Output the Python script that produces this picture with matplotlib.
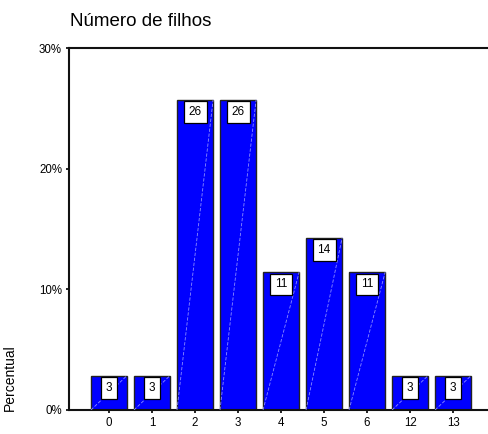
import matplotlib
matplotlib.use("Agg")
import matplotlib.pyplot as plt

plt.rcParams['font.family'] = ['Liberation Sans', 'DejaVu Sans']

# Number of children (n = 35), percent of respondents
categories = ['0', '1', '2', '3', '4', '5', '6', '12', '13']
percent = [2.857, 2.857, 25.714, 25.714, 11.429, 14.286, 11.429, 2.857, 2.857]
yticks = [0, 10, 20, 30]

fig = plt.figure(figsize=(4.88, 4.34), dpi=100)
ax = fig.add_axes([0.1414, 0.0553, 0.8586, 0.8341])

x = list(range(len(categories)))
width = 0.84
bars = ax.bar(x, percent, width=width, color='#0000ff', edgecolor='#222222',
              linewidth=1.0, zorder=2)

# faint diagonal stroke inside each bar
for xi, v in zip(x, percent):
    ax.plot([xi - width / 2, xi + width / 2], [0, v], color='#8c8cff',
            lw=0.6, ls=(0, (4, 2)), zorder=3)

# value boxes near the top of each bar
for xi, v in zip(x, percent):
    ax.annotate(f"{v:.0f}", xy=(xi, v), xytext=(0, -4.6), textcoords='offset points',
                ha='center', va='top', fontsize=8.5, zorder=4,
                bbox=dict(boxstyle='square,pad=0.42', fc='white', ec='black', lw=0.9))

ax.set_xlim(-0.93, 8.81)
ax.set_ylim(0, 30)
ax.set_xticks(x)
ax.set_xticklabels(categories, fontsize=8.3)
ax.set_yticks(yticks)
ax.set_yticklabels([f"{t}%" for t in yticks], fontsize=8.3)
ax.tick_params(axis='both', direction='out', length=2.5, width=1.2, pad=2.5)

for side in ['left', 'bottom', 'top']:
    ax.spines[side].set_linewidth(1.5)
    ax.spines[side].set_color('#111111')
ax.spines['right'].set_visible(False)

ax.set_ylabel('Percentual', fontsize=10)
ax.yaxis.set_label_coords(-0.125, 0.09)

fig.text(0.143, 0.95, 'Número de filhos', fontsize=13.5, ha='left', va='center')

fig.savefig('out.png', dpi=100)
